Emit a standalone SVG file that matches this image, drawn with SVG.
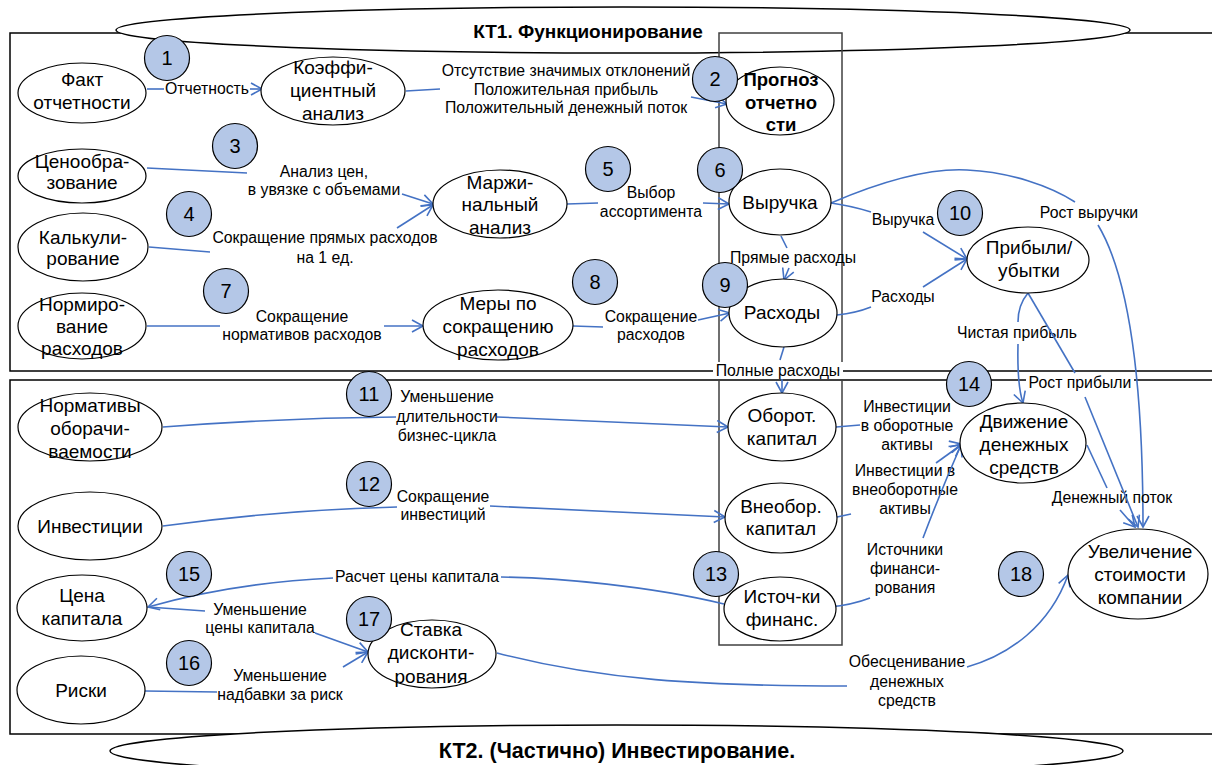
<svg xmlns="http://www.w3.org/2000/svg" width="1212" height="765" viewBox="0 0 1212 765">
<style>
.frame{fill:none;stroke:#000;stroke-width:1.5}
.col{fill:none;stroke:#404040;stroke-width:1.5}
.banner{fill:#fff;stroke:#000;stroke-width:1.5}
.title{font-family:"Liberation Sans",Arial,sans-serif;font-size:19px;font-weight:bold;text-anchor:middle;fill:#000}
.title.t2{font-size:21.5px}
.node ellipse{fill:#fff;stroke:#000;stroke-width:1.2}
.node text{font-family:"Liberation Sans",Arial,sans-serif;font-size:19px;text-anchor:middle;fill:#000}
.node text.b{font-weight:bold;font-size:18.5px}
.num circle{fill:#b4c7e7;stroke:#000;stroke-width:1.2}
.num text{font-family:"Liberation Sans",Arial,sans-serif;font-size:20px;text-anchor:middle;fill:#000}
.c{fill:none;stroke:#4472c4;stroke-width:1.6}
.a{marker-end:url(#arr)}
.lbl{font-family:"Liberation Sans",Arial,sans-serif;font-size:15.8px;text-anchor:middle;fill:#000}
.bg{fill:#fff}
</style>
<defs>
<marker id="arr" markerUnits="userSpaceOnUse" markerWidth="16" markerHeight="14" refX="12" refY="7" orient="auto">
<path d="M1,1 L12,7 L1,13" fill="none" stroke="#4472c4" stroke-width="1.6"/>
</marker>
</defs>

<g id="frames">
<rect class="frame" x="10" y="33" width="1210" height="338"/>
<rect class="frame" x="10" y="380" width="1210" height="354"/>
<ellipse class="banner" cx="623" cy="30" rx="507" ry="23"/>
<ellipse class="banner" cx="616.5" cy="751" rx="506.5" ry="26"/>
<rect class="col" x="719" y="33" width="123" height="612"/>
<text class="title" x="588" y="38">КТ1. Функционирование</text>
<text class="title t2" x="617" y="758">КТ2. (Частично) Инвестирование.</text>
</g>

<g id="connectors">
<g id="e-fakt-koef"><path class="c" d="M147,89 L164,89"/><path class="c a" d="M250,89 L262,89"/><text class="lbl" x="207" y="94">Отчетность</text></g>
<g id="e-koef-prog"><path class="c" d="M406,91 L440,89"/><path class="c a" d="M691,97 L727,104"/>
<text class="lbl" x="566" y="76">Отсутствие значимых отклонений</text><text class="lbl" x="566" y="95">Положительная прибыль</text><text class="lbl" x="566" y="113">Положительный денежный поток</text></g>
<g id="e-cen-marzh"><path class="c" d="M147,168 L247,173"/><path class="c a" d="M402,194 L433,204"/>
<text class="lbl" x="324" y="177">Анализ цен,</text><text class="lbl" x="324" y="195">в увязке с объемами</text></g>
<g id="e-kalk-marzh"><path class="c" d="M149,247 L210,252"/><path class="c a" d="M397,228 L433,205"/>
<text class="lbl" x="325" y="243">Сокращение прямых расходов</text><text class="lbl" x="325" y="263">на 1 ед.</text></g>
<g id="e-marzh-vyr"><path class="c" d="M567,204 L598,203"/><path class="c a" d="M703,203 L729,204"/>
<text class="lbl" x="651" y="198">Выбор</text><text class="lbl" x="651" y="217">ассортимента</text></g>
<g id="e-norm-mery"><path class="c" d="M147,326 L220,326"/><path class="c a" d="M384,326 L423,326"/>
<text class="lbl" x="302" y="322">Сокращение</text><text class="lbl" x="302" y="340">нормативов расходов</text></g>
<g id="e-mery-rash"><path class="c" d="M573,326 L603,327"/><path class="c a" d="M698,320 L730,313"/>
<text class="lbl" x="651" y="322">Сокращение</text><text class="lbl" x="651" y="340">расходов</text></g>
<g id="e-vyr-rash"><path class="c" d="M781,236 L787,248"/><path class="c a" d="M789,268 L784,280"/>
<text class="lbl" x="793" y="263">Прямые расходы</text></g>
<g id="e-rash-obor"><path class="c" d="M784,347 L780,360"/><rect class="bg" x="713" y="362" width="130" height="17"/><path class="c a" d="M782,379 L782,393"/>
<text class="lbl" x="778" y="376">Полные расходы</text></g>
<g id="e-vyr-prib"><path class="c" d="M831,203 Q852,206 871,212"/><path class="c a" d="M923,232 L967,259"/>
<text class="lbl" x="903" y="225">Выручка</text></g>
<g id="e-rash-prib"><path class="c" d="M837,315 Q856,313 871,307"/><path class="c a" d="M923,287 L967,259"/>
<text class="lbl" x="903" y="302">Расходы</text></g>
<g id="e-vyr-uvel"><path class="c" d="M831,203 C880,182 930,168 967,170 C1010,172 1050,186 1075,202"/><path class="c a" d="M1098,225 Q1143,300 1143,527"/>
<text class="lbl" x="1089" y="218">Рост выручки</text></g>
<g id="e-prib-dvizh"><path class="c" d="M1028,293 Q1018,305 1018,322"/><path class="c a" d="M1018,344 Q1017,385 1023,403"/>
<text class="lbl" x="1017" y="338">Чистая прибыль</text></g>
<g id="e-dvizh-uvel"><path class="c" d="M1087,445 L1107,488"/><path class="c a" d="M1120,510 L1135,527"/>
<text class="lbl" x="1112" y="503">Денежный поток</text></g>
<g id="e-prib-uvel"><path class="c" d="M1028,293 L1075,373"/><rect class="bg" x="1026" y="375" width="108" height="16"/><path class="c a" d="M1085,397 L1138,527"/>
<text class="lbl" x="1080" y="388">Рост прибыли</text></g>
<g id="e-normob-obor"><path class="c" d="M163,427 Q280,418 396,417"/><path class="c a" d="M497,417 L728,427"/>
<text class="lbl" x="447" y="402">Уменьшение</text><text class="lbl" x="447" y="422">длительности</text><text class="lbl" x="447" y="441">бизнес-цикла</text></g>
<g id="e-inv-vneob"><path class="c" d="M163,526 Q280,510 397,507"/><path class="c a" d="M490,506 L725,517"/>
<text class="lbl" x="443" y="502">Сокращение</text><text class="lbl" x="443" y="520">инвестиций</text></g>
<g id="e-obor-dvizh"><path class="c" d="M836,427 L860,425"/><path class="c a" d="M950,447 L961,444"/>
<text class="lbl" x="907" y="412">Инвестиции</text><text class="lbl" x="907" y="431">в оборотные</text><text class="lbl" x="907" y="450">активы</text></g>
<g id="e-vneob-dvizh"><path class="c" d="M837,517 L851,514"/><path class="c a" d="M936,463 L961,445"/>
<text class="lbl" x="905" y="476">Инвестиции в</text><text class="lbl" x="905" y="495">внеоборотные</text><text class="lbl" x="905" y="514">активы</text></g>
<g id="e-ist-dvizh"><path class="c" d="M829,607 Q852,605 870,598"/><path class="c a" d="M923,538 Q942,488 961,445"/>
<text class="lbl" x="905" y="555">Источники</text><text class="lbl" x="905" y="574">финанси-</text><text class="lbl" x="905" y="593">рования</text></g>
<g id="e-ist-cena"><path class="c" d="M724,604 C650,586 560,578 501,577"/><path class="c a" d="M333,578 C250,582 190,595 148,607"/>
<text class="lbl" x="417" y="582">Расчет цены капитала</text></g>
<g id="e-cena-stavka"><path class="c" d="M205,611 L148,607"/><path class="c a" d="M315,633 L368,652"/>
<text class="lbl" x="260" y="615">Уменьшение</text><text class="lbl" x="260" y="633">цены капитала</text></g>
<g id="e-riski-stavka"><path class="c" d="M145,691 L217,692"/><path class="c a" d="M343,667 L368,652"/>
<text class="lbl" x="280" y="681">Уменьшение</text><text class="lbl" x="280" y="700">надбавки за риск</text></g>
<g id="e-stavka-uvel"><path class="c" d="M497,653 C600,680 700,686 847,686"/><path class="c a" d="M967,667 C1010,655 1050,625 1068,575"/>
<text class="lbl" x="907" y="667">Обесценивание</text><text class="lbl" x="907" y="687">денежных</text><text class="lbl" x="907" y="706">средств</text></g>
</g>

<g id="n-fakt" class="node"><ellipse cx="82" cy="93" rx="64" ry="30"/><text><tspan x="82" y="86">Факт</tspan><tspan x="82" y="109">отчетности</tspan></text></g>
<g id="n-koef" class="node"><ellipse cx="333" cy="91" rx="72" ry="34"/><text><tspan x="333" y="74">Коэффи-</tspan><tspan x="333" y="97">циентный</tspan><tspan x="333" y="120">анализ</tspan></text></g>
<g id="n-prog" class="node"><ellipse cx="780" cy="101" rx="54" ry="34"/><text class="b"><tspan x="781" y="86">Прогноз</tspan><tspan x="781" y="109">отчетно</tspan><tspan x="781" y="131">сти</tspan></text></g>
<g id="n-cen" class="node"><ellipse cx="82" cy="176" rx="64" ry="27"/><text><tspan x="82" y="168">Ценообра-</tspan><tspan x="82" y="189">зование</tspan></text></g>
<g id="n-kalk" class="node"><ellipse cx="83" cy="247" rx="65" ry="34"/><text><tspan x="83" y="244">Калькули-</tspan><tspan x="83" y="265">рование</tspan></text></g>
<g id="n-norm" class="node"><ellipse cx="82" cy="326" rx="64" ry="33"/><text><tspan x="82" y="311">Нормиро-</tspan><tspan x="82" y="333">вание</tspan><tspan x="82" y="355">расходов</tspan></text></g>
<g id="n-marzh" class="node"><ellipse cx="500" cy="204" rx="67" ry="34"/><text><tspan x="500" y="189">Маржи-</tspan><tspan x="500" y="211">нальный</tspan><tspan x="500" y="234">анализ</tspan></text></g>
<g id="n-mery" class="node"><ellipse cx="498" cy="325" rx="75" ry="35"/><text><tspan x="498" y="310">Меры по</tspan><tspan x="498" y="333">сокращению</tspan><tspan x="498" y="356">расходов</tspan></text></g>
<g id="n-vyr" class="node"><ellipse cx="780" cy="202" rx="51" ry="33"/><text x="780" y="209">Выручка</text></g>
<g id="n-rash" class="node"><ellipse cx="783" cy="313" rx="54" ry="34"/><text x="782" y="319">Расходы</text></g>
<g id="n-prib" class="node"><ellipse cx="1028" cy="260" rx="61" ry="33"/><text><tspan x="1029" y="254">Прибыли/</tspan><tspan x="1029" y="277">убытки</tspan></text></g>
<g id="n-normob" class="node"><ellipse cx="90" cy="427" rx="72" ry="34"/><text><tspan x="90" y="412">Нормативы</tspan><tspan x="90" y="435">оборачи-</tspan><tspan x="90" y="458">ваемости</tspan></text></g>
<g id="n-inv" class="node"><ellipse cx="90" cy="526" rx="72" ry="34"/><text x="90" y="533">Инвестиции</text></g>
<g id="n-obor" class="node"><ellipse cx="782" cy="427" rx="54" ry="34"/><text><tspan x="782" y="422">Оборот.</tspan><tspan x="782" y="445">капитал</tspan></text></g>
<g id="n-vneob" class="node"><ellipse cx="781" cy="518" rx="56" ry="35"/><text><tspan x="781" y="513">Внеобор.</tspan><tspan x="781" y="535">капитал</tspan></text></g>
<g id="n-ist" class="node"><ellipse cx="780" cy="609" rx="56" ry="32"/><text><tspan x="782" y="603">Источ-ки</tspan><tspan x="782" y="626">финанс.</tspan></text></g>
<g id="n-dvizh" class="node"><ellipse cx="1023" cy="443" rx="63" ry="40"/><text><tspan x="1024" y="428">Движение</tspan><tspan x="1024" y="451">денежных</tspan><tspan x="1024" y="474">средств</tspan></text></g>
<g id="n-uvel" class="node"><ellipse cx="1138" cy="574" rx="70" ry="45"/><text><tspan x="1140" y="558">Увеличение</tspan><tspan x="1140" y="581">стоимости</tspan><tspan x="1140" y="604">компании</tspan></text></g>
<g id="n-cena" class="node"><ellipse cx="82" cy="608" rx="65" ry="33"/><text><tspan x="82" y="602">Цена</tspan><tspan x="82" y="625">капитала</tspan></text></g>
<g id="n-riski" class="node"><ellipse cx="81" cy="690" rx="64" ry="34"/><text x="81" y="697">Риски</text></g>
<g id="n-stavka" class="node"><ellipse cx="432" cy="654" rx="64" ry="34"/><text><tspan x="431" y="636">Ставка</tspan><tspan x="431" y="659">дисконти-</tspan><tspan x="431" y="683">рования</tspan></text></g>

<g id="numbers">
<g id="num1" class="num"><circle cx="167" cy="58" r="22.5"/><text x="167" y="65">1</text></g>
<g id="num2" class="num"><circle cx="715" cy="79" r="22.5"/><text x="715" y="86">2</text></g>
<g id="num3" class="num"><circle cx="235" cy="146" r="22.5"/><text x="235" y="153">3</text></g>
<g id="num4" class="num"><circle cx="189" cy="214" r="22.5"/><text x="189" y="221">4</text></g>
<g id="num5" class="num"><circle cx="608" cy="169" r="22.5"/><text x="608" y="176">5</text></g>
<g id="num6" class="num"><circle cx="720" cy="170" r="22.5"/><text x="720" y="177">6</text></g>
<g id="num7" class="num"><circle cx="226" cy="291" r="22.5"/><text x="226" y="298">7</text></g>
<g id="num8" class="num"><circle cx="595" cy="282" r="22.5"/><text x="595" y="289">8</text></g>
<g id="num9" class="num"><circle cx="725" cy="285" r="22.5"/><text x="725" y="292">9</text></g>
<g id="num10" class="num"><circle cx="960" cy="213" r="22.5"/><text x="960" y="220">10</text></g>
<g id="num11" class="num"><circle cx="369" cy="394" r="22.5"/><text x="369" y="401">11</text></g>
<g id="num12" class="num"><circle cx="369" cy="484" r="22.5"/><text x="369" y="491">12</text></g>
<g id="num13" class="num"><circle cx="716" cy="574" r="22.5"/><text x="716" y="581">13</text></g>
<g id="num14" class="num"><circle cx="969" cy="384" r="22.5"/><text x="969" y="391">14</text></g>
<g id="num15" class="num"><circle cx="189" cy="574" r="22.5"/><text x="189" y="581">15</text></g>
<g id="num16" class="num"><circle cx="189" cy="663" r="22.5"/><text x="189" y="670">16</text></g>
<g id="num17" class="num"><circle cx="369" cy="619" r="22.5"/><text x="369" y="626">17</text></g>
<g id="num18" class="num"><circle cx="1021" cy="574" r="22.5"/><text x="1021" y="581">18</text></g>
</g>
</svg>
